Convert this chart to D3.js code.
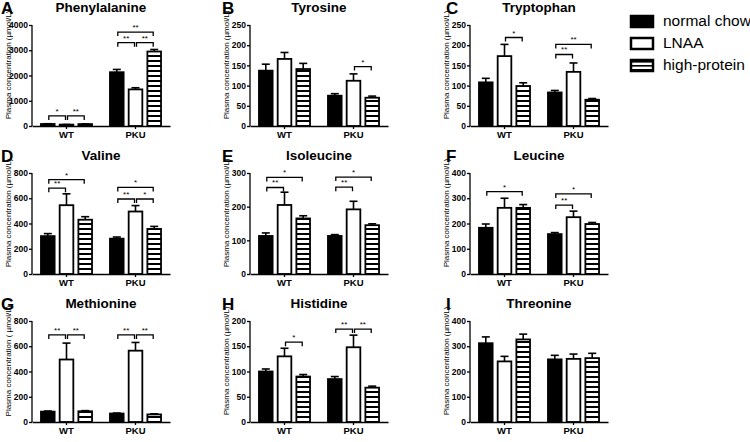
<!DOCTYPE html>
<html><head><meta charset="utf-8">
<script src="https://cdn.jsdelivr.net/npm/d3@7"></script>
<style>body{margin:0;background:#fff} svg{display:block} text{font-family:"Liberation Sans",Arial,sans-serif}</style>
</head><body><svg id="c" width="750" height="442"></svg>
<script>
const aminoAcids = ["Phenylalanine","Tyrosine","Tryptophan","Valine","Isoleucine","Leucine","Methionine","Histidine","Threonine"];
const panelLetters = ["A","B","C","D","E","F","G","H","I"];
const genotypes = ["WT","PKU"];
const diets = ["normal chow","LNAA","high-protein"];
const yMax = [4000,250,250,800,300,400,800,200,400];
const yStep = [1000,50,50,200,100,100,200,50,100];
const yTitles = ["Plasma concentration (µmol/L)","Plasma concentration (µmol/L)","Plasma concentration (µmol/L)",
  "Plasma concentration (µmol/L)","Plasma concentration (µmol/L)","Plasma concentration (µmol/L)",
  "Plasma concentration ( µmol/L)","Plasma concentration (µmol/L)","Plasma concentration (µmol/L)"];
// values per panel: [WT, PKU]
const normalChowMean = [[80,2130],[137,75],[108,83],[300,280],[113,113],[183,158],[82,67],[100,85],[312,248]];
const normalChowSem  = [[10,110],[16,5],[10,5],[20,13],[9,4],[15,6],[5,4],[5,5],[25,16]];
const lnaaMean       = [[55,1450],[166,112],[173,134],[545,495],[205,192],[262,225],[495,565],[130,148],[240,250]];
const lnaaSem        = [[5,65],[16,17],[29,22],[90,47],[38,24],[38,24],[130,65],[16,24],[20,19]];
const highProteinMean= [[75,2950],[141,70],[99,65],[430,357],[165,145],[262,198],[85,60],[90,68],[327,253]];
const highProteinSem = [[8,80],[14,4],[8,3],[24,20],[8,4],[13,6],[5,5],[4,3],[21,19]];
// significance brackets: [panel, genotype, from diet, to diet, label, bracket level (data units)]
const significance = [
 [0,"WT",0,1,"*",400],[0,"WT",1,2,"**",400],[0,"PKU",0,1,"**",3300],[0,"PKU",1,2,"**",3300],[0,"PKU",0,2,"**",3720],
 [1,"PKU",1,2,"*",147],
 [2,"WT",1,2,"*",219],[2,"PKU",0,1,"**",177],[2,"PKU",0,2,"**",202],
 [3,"WT",0,1,"**",680],[3,"WT",0,2,"*",747],[3,"PKU",0,1,"**",594],[3,"PKU",1,2,"*",594],[3,"PKU",0,2,"*",686],
 [4,"WT",0,1,"**",257],[4,"WT",0,2,"*",287],[4,"PKU",0,1,"**",258],[4,"PKU",0,2,"*",288],
 [5,"WT",0,2,"*",326],[5,"PKU",0,1,"**",273],[5,"PKU",0,2,"*",317],
 [6,"WT",0,1,"**",690],[6,"WT",1,2,"**",690],[6,"PKU",0,1,"**",690],[6,"PKU",1,2,"**",690],
 [7,"WT",1,2,"*",158],[7,"PKU",0,1,"**",184],[7,"PKU",1,2,"**",184]
];

const means = [normalChowMean, lnaaMean, highProteinMean];
const sems = [normalChowSem, lnaaSem, highProteinSem];
const fills = ["#000","#fff","url(#stripes)"];

const svg = d3.select("#c");
const defs = svg.append("defs");
const pat = defs.append("pattern").attr("id","stripes").attr("patternUnits","userSpaceOnUse")
  .attr("width",8).attr("height",5);
pat.append("rect").attr("width",8).attr("height",5).attr("fill","#fff");
pat.append("rect").attr("width",8).attr("height",2).attr("fill","#000");
const patL = defs.append("pattern").attr("id","stripesL").attr("patternUnits","userSpaceOnUse")
  .attr("width",8).attr("height",4);
patL.append("rect").attr("width",8).attr("height",4).attr("fill","#fff");
patL.append("rect").attr("y",1).attr("width",8).attr("height",1.6).attr("fill","#000");

const colX = [32,250,470], rowTop = [25,173,321], W = 138, H = 101;

aminoAcids.forEach((name,i)=>{
  const col = i%3, row = Math.floor(i/3);
  const g = svg.append("g").attr("transform",`translate(${colX[col]},${rowTop[row]})`);
  const y = d3.scaleLinear().domain([0,yMax[i]]).range([H,0]);
  const x0 = d3.scaleBand().domain(genotypes).range([0,W]).paddingInner(0.26).paddingOuter(0.13);
  const x1 = d3.scaleBand().domain(diets).range([0,x0.bandwidth()]).paddingInner(0.27);
  const bw = x1.bandwidth();

  genotypes.forEach((gt,gi)=>{
    diets.forEach((dt,di)=>{
      const m = means[di][i][gi], s = sems[di][i][gi];
      const bx = x0(gt)+x1(dt);
      const cx = bx+bw/2;
      g.append("line").attr("x1",cx).attr("x2",cx).attr("y1",y(m)).attr("y2",y(m+s))
        .attr("stroke","#000").attr("stroke-width",1.6);
      g.append("line").attr("x1",cx-4).attr("x2",cx+4).attr("y1",y(m+s)).attr("y2",y(m+s))
        .attr("stroke","#000").attr("stroke-width",1.6);
      g.append("rect").attr("x",bx).attr("y",y(m)).attr("width",bw).attr("height",H-y(m))
        .attr("fill",fills[di]).attr("stroke","#000").attr("stroke-width",1.8);
    });
  });

  const ya = d3.axisLeft(y).tickValues(d3.range(0,yMax[i]+1,yStep[i])).tickSize(3).tickPadding(1).tickFormat(d3.format("d"));
  const yg = g.append("g").call(ya);
  const xa = d3.axisBottom(x0).tickSize(3).tickSizeOuter(0).tickPadding(2);
  const xg = g.append("g").attr("transform",`translate(0,${H})`).call(xa);
  [yg,xg].forEach(a=>{
    a.selectAll("path,line").attr("stroke","#000").attr("stroke-width",1.3);
    a.selectAll("text").attr("font-family","Liberation Sans, Arial, sans-serif").attr("font-weight","bold").attr("fill","#000");
  });
  yg.selectAll("text").attr("font-size",8.5);
  xg.selectAll("text").attr("font-size",9.5);
  yg.select(".domain").attr("d",`M-0,${H}V0`);
  g.append("text").attr("transform",`translate(-23,${40}) rotate(-90)`).attr("text-anchor","middle")
    .attr("dominant-baseline","middle").attr("font-size",8).text(yTitles[i]);
  g.append("text").attr("x", W/2).attr("y",-13).attr("text-anchor","middle")
    .attr("font-size",13.5).attr("font-weight","bold").text(name);
  g.append("text").attr("x", i%3===0 ? -31 : (i%3===1 ? -28 : -24)).attr("y",-11)
    .attr("font-size",17).attr("font-weight","bold").text(panelLetters[i]);

  significance.filter(d=>d[0]===i).forEach(d=>{
    const gt = d[1];
    const xa_ = x0(gt)+x1(diets[d[2]])+bw/2+1;
    const xb_ = x0(gt)+x1(diets[d[3]])+bw/2-1;
    const yl = y(d[5]);
    g.append("path").attr("d",`M${xa_},${yl+4}V${yl}H${xb_}V${yl+4}`).attr("fill","none")
      .attr("stroke","#000").attr("stroke-width",1.3);
    g.append("text").attr("x",(xa_+xb_)/2).attr("y",yl-2).attr("text-anchor","middle")
      .attr("font-size",8).text(d[4]);
  });
});

const lg = svg.append("g").attr("transform","translate(630,16)");
diets.forEach((dt,di)=>{
  const r = lg.append("g").attr("transform",`translate(0,${di*22})`);
  r.append("rect").attr("x",1).attr("y",0).attr("width",22).attr("height",11)
    .attr("fill",di===2?"url(#stripesL)":fills[di]).attr("stroke","#000").attr("stroke-width",2.5);
  r.append("text").attr("x",33).attr("y",6).attr("dominant-baseline","middle").attr("font-size",15.5).text(dt);
});
</script></body></html>
